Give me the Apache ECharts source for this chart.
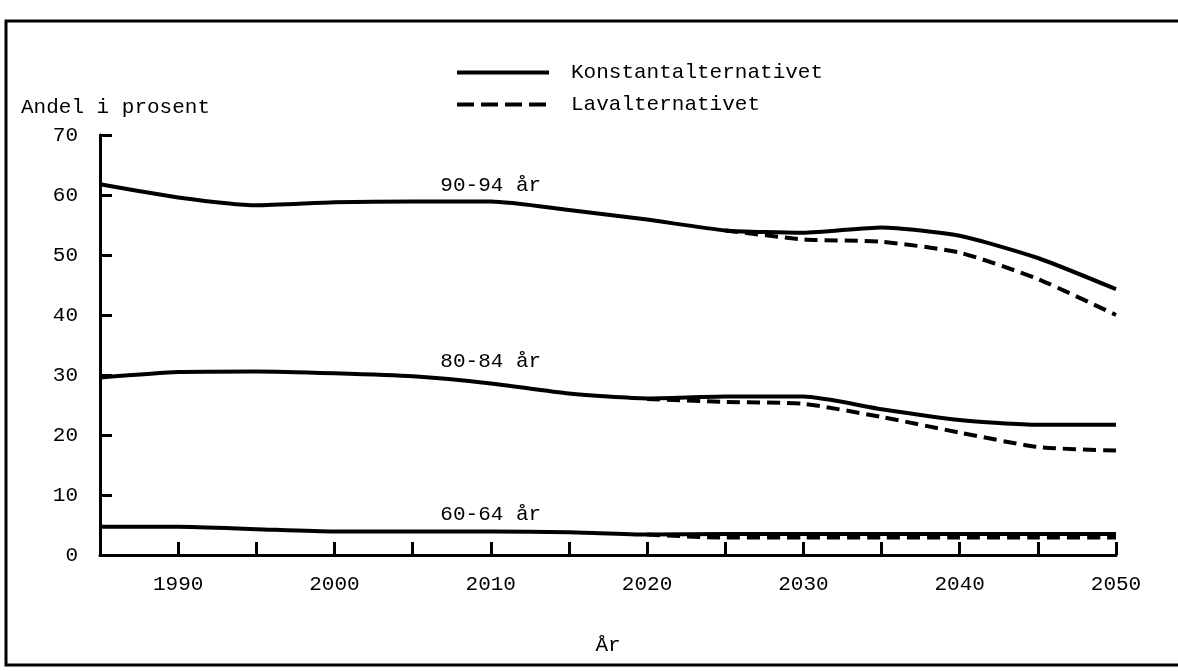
<!DOCTYPE html>
<html>
<head>
<meta charset="utf-8">
<script src="https://cdn.jsdelivr.net/npm/echarts@6/dist/echarts.min.js"></script>
<style>
  html, body { margin: 0; padding: 0; background: #fff; }
  #main { width: 1178px; height: 671px; }
</style>
</head>
<body>
<div id="main"></div>
<script>
// år på x-aksen
var years = [1985, 1990, 1995, 2000, 2005, 2010, 2015, 2020, 2025, 2030, 2035, 2040, 2045, 2050];

// andel i prosent, konstantalternativet
var konst9094 = [61.8, 59.6, 58.3, 58.8, 58.9, 58.9, 57.5, 55.9, 54.1, 53.7, 54.6, 53.2, 49.5, 44.3];
var konst8084 = [29.6, 30.5, 30.6, 30.3, 29.8, 28.6, 26.9, 26.1, 26.4, 26.4, 24.3, 22.5, 21.7, 21.7];
var konst6064 = [4.7, 4.7, 4.3, 3.9, 3.9, 3.9, 3.8, 3.4, 3.5, 3.5, 3.5, 3.5, 3.5, 3.5];

// lavalternativet (starter der kurvene skiller lag)
var lav9094 = [null, null, null, null, null, null, null, null, 54.1, 52.6, 52.2, 50.4, 46.0, 40.0];
var lav8084 = [null, null, null, null, null, null, null, 26.0, 25.5, 25.2, 23.0, 20.4, 18.0, 17.4];
var lav6064 = [null, null, null, null, null, null, null, 3.4, 2.9, 2.9, 2.9, 2.9, 2.9, 2.9];

var yTicks = [0, 10, 20, 30, 40, 50, 60, 70];
var groupLabels = ['90-94 år', '80-84 år', '60-64 år'];
var labelYear = 2010;

var FONT = '"Liberation Mono", "DejaVu Sans Mono", monospace';

function pairs(arr) {
    var out = [];
    for (var i = 0; i < years.length; i++) {
        if (arr[i] !== null) out.push([years[i], arr[i]]);
    }
    return out;
}

function groupMark(arr, text, dy) {
    var i = years.indexOf(labelYear);
    return {
        symbol: 'circle',
        symbolSize: 0,
        silent: true,
        label: {
            show: true,
            position: 'inside',
            offset: [0, -dy],
            formatter: text,
            color: '#000',
            fontFamily: FONT,
            fontSize: 21
        },
        data: [{ coord: [labelYear, arr[i]] }]
    };
}

function konstSeries(arr, text, dy) {
    return {
        name: 'Konstantalternativet',
        type: 'line',
        symbol: 'none',
        smooth: 0.2,
        lineStyle: { color: '#000', width: 4, type: 'solid' },
        itemStyle: { color: '#000' },
        data: pairs(arr),
        markPoint: groupMark(arr, text, dy),
        z: 3
    };
}

function lavSeries(arr) {
    return {
        name: 'Lavalternativet',
        type: 'line',
        symbol: 'none',
        smooth: 0.2,
        lineStyle: { color: '#000', width: 4, type: [13, 7] },
        itemStyle: { color: '#000' },
        data: pairs(arr),
        z: 2
    };
}

var myChart = echarts.init(document.getElementById('main'));

var option = {
    animation: false,
    backgroundColor: '#fff',
    textStyle: { fontFamily: FONT, color: '#000' },
    graphic: [{
        type: 'rect',
        silent: true,
        shape: { x: 6, y: 21, width: 1180, height: 644 },
        style: { fill: 'none', stroke: '#000', lineWidth: 3 }
    }],
    legend: {
        orient: 'vertical',
        left: 450,
        top: 57,
        itemWidth: 92,
        itemHeight: 16,
        itemGap: 11,
        data: [
            { name: 'Konstantalternativet', lineStyle: { width: 4, type: 'solid' } },
            { name: 'Lavalternativet', lineStyle: { width: 4, type: [17, 7] } }
        ],
        itemStyle: { opacity: 0 },
        textStyle: {
            color: '#000',
            fontFamily: FONT,
            fontSize: 21,
            padding: [0, 0, 0, 17]
        }
    },
    grid: {
        left: 100,
        right: 62,
        top: 135,
        bottom: 116,
        containLabel: false,
        outerBoundsMode: 'none'
    },
    xAxis: {
        type: 'value',
        min: 1985,
        max: 2050,
        interval: 5,
        name: 'År',
        nameLocation: 'middle',
        nameGap: 80,
        nameTextStyle: { color: '#000', fontFamily: FONT, fontSize: 21 },
        axisLine: { show: true, lineStyle: { color: '#000', width: 3 } },
        axisTick: { show: true, inside: true, length: 13, lineStyle: { color: '#000', width: 3 } },
        axisLabel: {
            color: '#000',
            fontFamily: FONT,
            fontSize: 21,
            margin: 19,
            formatter: function (v) { return v % 10 === 0 ? String(v) : ''; }
        },
        splitLine: { show: false }
    },
    yAxis: {
        type: 'value',
        min: yTicks[0],
        max: yTicks[yTicks.length - 1],
        interval: 10,
        name: 'Andel i prosent',
        nameLocation: 'end',
        nameGap: 17,
        nameTextStyle: {
            color: '#000',
            fontFamily: FONT,
            fontSize: 21,
            align: 'left',
            padding: [0, 0, 0, -79]
        },
        axisLine: { show: true, lineStyle: { color: '#000', width: 3 } },
        axisTick: { show: true, inside: true, length: 12, lineStyle: { color: '#000', width: 3 } },
        axisLabel: { color: '#000', fontFamily: FONT, fontSize: 21, margin: 22 },
        splitLine: { show: false }
    },
    series: [
        lavSeries(lav9094),
        lavSeries(lav8084),
        lavSeries(lav6064),
        konstSeries(konst9094, groupLabels[0], 16),
        konstSeries(konst8084, groupLabels[1], 22),
        konstSeries(konst6064, groupLabels[2], 17)
    ]
};

myChart.setOption(option);
window.addEventListener('resize', function () {
    myChart.resize();
});
</script>
</body>
</html>
